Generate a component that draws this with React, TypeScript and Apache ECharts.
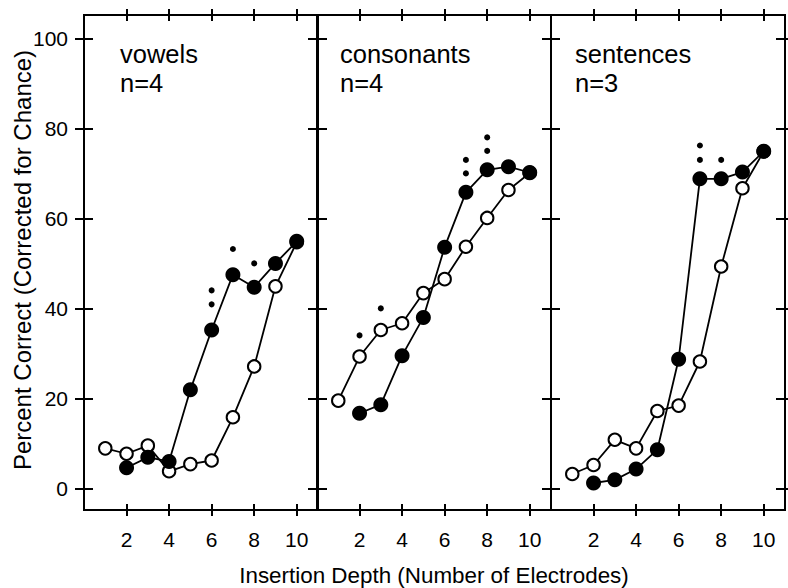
import React, { useEffect, useRef } from "react";
import * as echarts from "echarts";

const xValues = [1, 2, 3, 4, 5, 6, 7, 8, 9, 10];
const tickValuesX = [2, 4, 6, 8, 10];
const tickValuesY = [0, 20, 40, 60, 80, 100];

const panelNames = ["vowels", "consonants", "sentences"];
const panelCounts = ["n=4", "n=4", "n=3"];

const vowelsOpen = [9.0, 7.8, 9.6, 3.9, 5.5, 6.3, 15.9, 27.2, 45.0, 54.8];
const vowelsFilled = [null, 4.7, 7.0, 6.1, 22.0, 35.3, 47.6, 44.8, 50.1, 55.0];
const vowelsDots = [[6, 44.1], [6, 41.0], [7, 53.3], [8, 50.1]];

const consonantsOpen = [19.6, 29.4, 35.3, 36.8, 43.5, 46.6, 53.8, 60.2, 66.4, 70.2];
const consonantsFilled = [null, 16.8, 18.7, 29.6, 38.1, 53.7, 65.9, 70.9, 71.6, 70.3];
const consonantsDots = [[2, 34.1], [3, 40.1], [7, 73.1], [7, 70.1], [8, 78.1], [8, 75.1]];

const sentencesOpen = [3.3, 5.3, 10.9, 9.0, 17.3, 18.5, 28.3, 49.4, 66.8, 75.0];
const sentencesFilled = [null, 1.3, 2.0, 4.4, 8.7, 28.8, 68.9, 68.9, 70.4, 75.0];
const sentencesDots = [[7, 76.3], [7, 73.1], [8, 73.1]];

const xTitle = "Insertion Depth (Number of Electrodes)";
const yTitle = "Percent Correct (Corrected for Chance)";

const FONT = "Liberation Sans, Arial, sans-serif";

const pairs = (vals: (number | null)[]) =>
  xValues.map((x, i) => [x, vals[i]]).filter((p) => p[1] !== null);

export default function App() {
  const ref = useRef<HTMLDivElement>(null);
  useEffect(() => {
    if (!ref.current) return;
    const chart = echarts.init(ref.current, null, { renderer: "svg" });
    const gridLefts = [84, 317, 551];
    const gridWidth = 234;
    const grids = gridLefts.map((l) => ({
      left: l,
      top: 15,
      width: gridWidth,
      height: 495,
      show: true,
      borderColor: "#000",
      borderWidth: 2,
      backgroundColor: "transparent",
    }));
    const tickStyle = { color: "#000", width: 2 };
    const xAxes: any[] = [];
    const yAxes: any[] = [];
    grids.forEach((_, g) => {
      const mkX = (position: string, showLabel: boolean) => ({
        type: "value",
        gridIndex: g,
        position,
        offset: -6,
        min: 0,
        max: 11,
        axisLine: { show: false, onZero: false },
        splitLine: { show: false },
        axisTick: { show: true, inside: false, length: 12, customValues: tickValuesX, lineStyle: tickStyle },
        axisLabel: { show: showLabel, customValues: tickValuesX, fontSize: 21, color: "#000", fontFamily: FONT, margin: 25 },
      });
      const mkY = (position: string, showLabel: boolean) => ({
        type: "value",
        gridIndex: g,
        position,
        offset: -9,
        min: -4.7,
        max: 105.3,
        axisLine: { show: false, onZero: false },
        splitLine: { show: false },
        axisTick: { show: true, inside: false, length: 18, customValues: tickValuesY, lineStyle: tickStyle },
        axisLabel: { show: showLabel, customValues: tickValuesY, fontSize: 21, color: "#000", fontFamily: FONT, margin: 25 },
      });
      xAxes.push(mkX("bottom", true), mkX("top", false));
      yAxes.push(mkY("left", g === 0), mkY("right", false));
    });

    const panels = [
      { open: vowelsOpen, filled: vowelsFilled, dots: vowelsDots },
      { open: consonantsOpen, filled: consonantsFilled, dots: consonantsDots },
      { open: sentencesOpen, filled: sentencesFilled, dots: sentencesDots },
    ];
    const series: any[] = [];
    panels.forEach((p, g) => {
      const ax = { xAxisIndex: g * 2, yAxisIndex: g * 2 };
      series.push({ type: "line", ...ax, data: pairs(p.open), symbol: "none", lineStyle: { color: "#000", width: 1.8 }, z: 2 });
      series.push({ type: "line", ...ax, data: pairs(p.filled), symbol: "none", lineStyle: { color: "#000", width: 1.8 }, z: 2 });
      series.push({ type: "scatter", ...ax, data: pairs(p.open), symbol: "circle", symbolSize: 12.5, itemStyle: { color: "#fff", borderColor: "#000", borderWidth: 2, opacity: 1 }, z: 3 });
      series.push({ type: "scatter", ...ax, data: pairs(p.filled), symbol: "circle", symbolSize: 15, itemStyle: { color: "#000", opacity: 1 }, z: 4 });
      series.push({ type: "scatter", ...ax, data: p.dots, symbol: "circle", symbolSize: 6, itemStyle: { color: "#000", opacity: 1 }, z: 4 });
    });

    const labelX = [120, 340, 575];
    const graphic: any[] = [];
    panelNames.forEach((name, i) => {
      graphic.push({ type: "text", x: labelX[i], y: 54, style: { text: name, font: `25.5px ${FONT}`, fill: "#000", textVerticalAlign: "middle" } });
      graphic.push({ type: "text", x: labelX[i], y: 83, style: { text: panelCounts[i], font: `25.5px ${FONT}`, fill: "#000", textVerticalAlign: "middle" } });
    });
    graphic.push({ type: "text", x: 434, y: 575, style: { text: xTitle, font: `22.4px ${FONT}`, fill: "#000", textAlign: "center", textVerticalAlign: "middle" } });
    graphic.push({ type: "text", x: 22, y: 260, rotation: Math.PI / 2, style: { text: yTitle, font: `24px ${FONT}`, fill: "#000", textAlign: "center", textVerticalAlign: "middle" } });

    chart.setOption({
      animation: false,
      backgroundColor: "#fff",
      grid: grids,
      xAxis: xAxes,
      yAxis: yAxes,
      series,
      graphic,
    });
    return () => chart.dispose();
  }, []);
  return <div ref={ref} style={{ position: "fixed", left: 0, top: 0, width: 788, height: 588 }} />;
}
